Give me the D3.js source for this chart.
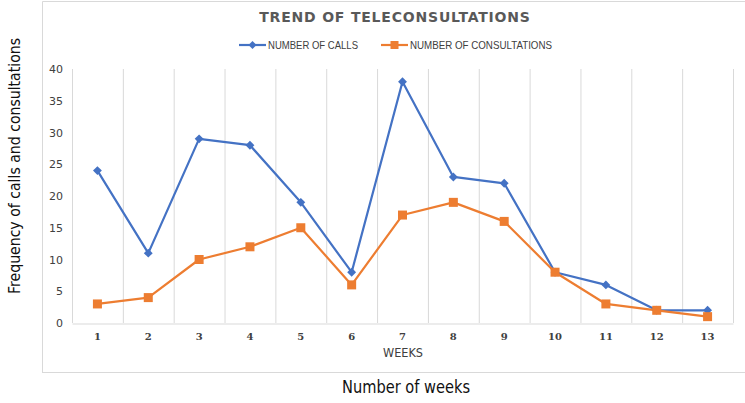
<!DOCTYPE html>
<html><head><meta charset="utf-8">
<script src="https://cdn.jsdelivr.net/npm/d3@7"></script>
<style>body{margin:0;background:#fff}</style>
</head><body>
<svg id="c" width="745" height="403"></svg>
<script>
const weeks = ["1","2","3","4","5","6","7","8","9","10","11","12","13"];
const calls = [24, 11, 29, 28, 19, 8, 38, 23, 22, 8, 6, 2, 2];
const consultations = [3, 4, 10, 12, 15, 6, 17, 19, 16, 8, 3, 2, 1];
const yTicks = [0, 5, 10, 15, 20, 25, 30, 35, 40];
const seriesNames = ["NUMBER OF CALLS", "NUMBER OF CONSULTATIONS"];
const colors = ["#4472C4", "#ED7D31"];

const svg = d3.select("#c");
const pLeft = 72, pRight = 733, pTop = 69, pBottom = 323;
const x = d3.scaleBand().domain(weeks).range([pLeft, pRight]);
const y = d3.scaleLinear().domain([0, 40]).range([pBottom, pTop]);

// chart border
svg.append("path").attr("d", "M42.5,372.5 L42.5,1.5 L745,1.5").attr("fill","none").attr("stroke","#d9d9d9").attr("stroke-width",1);
svg.append("line").attr("x1",42).attr("x2",745).attr("y1",372.5).attr("y2",372.5).attr("stroke","#d9d9d9");

// vertical gridlines at band boundaries
const bounds = weeks.map(w => x(w)).concat([pRight]);
svg.append("g").selectAll("line").data(bounds).join("line")
  .attr("x1", d => d + 0.5).attr("x2", d => d + 0.5)
  .attr("y1", pTop).attr("y2", pBottom)
  .attr("stroke", "#d9d9d9").attr("stroke-width", 1);

// x axis
const xAxis = svg.append("g").attr("transform", `translate(0,${pBottom + 0.5})`)
  .call(d3.axisBottom(x).tickSize(0).tickPadding(9));
xAxis.select(".domain").attr("stroke", "#d9d9d9");
xAxis.selectAll("text").attr("font-family", "DejaVu Serif, serif").attr("font-size", 10)
  .attr("font-weight", "bold").attr("fill", "#404040");

// y axis
const yAxis = svg.append("g").attr("transform", `translate(${pLeft},0)`)
  .call(d3.axisLeft(y).tickValues(yTicks).tickSize(0).tickPadding(9));
yAxis.select(".domain").remove();
yAxis.selectAll("text").attr("font-family", "DejaVu Sans, sans-serif").attr("font-size", 11)
  .attr("fill", "#404040");

// lines
const seriesData = [calls, consultations];
const line = d3.line().x((d, i) => x(weeks[i]) + x.bandwidth() / 2).y(d => y(d));
seriesData.forEach((s, k) => {
  svg.append("path").datum(s).attr("d", line).attr("fill", "none")
    .attr("stroke", colors[k]).attr("stroke-width", 2.2).attr("stroke-linejoin", "round");
});
// markers
svg.append("g").selectAll("path").data(calls).join("path")
  .attr("d", d3.symbol(d3.symbolDiamond2, 50))
  .attr("transform", (d, i) => `translate(${x(weeks[i]) + x.bandwidth() / 2},${y(d)})`)
  .attr("fill", colors[0]);
svg.append("g").selectAll("rect").data(consultations).join("rect")
  .attr("x", (d, i) => x(weeks[i]) + x.bandwidth() / 2 - 4.5)
  .attr("y", d => y(d) - 4.5).attr("width", 9).attr("height", 9)
  .attr("fill", colors[1]);

// title
svg.append("text").attr("x", 395).attr("y", 22).attr("text-anchor", "middle")
  .attr("font-family", "DejaVu Sans, sans-serif").attr("font-size", 14).attr("font-weight", "bold")
  .attr("letter-spacing", 0.8).attr("fill", "#595959").text("TREND OF TELECONSULTATIONS");

// legend
const leg = [{x0: 239, tx: 268, w: 90}, {x0: 381, tx: 410, w: 142}];
leg.forEach((l, k) => {
  const g = svg.append("g");
  g.append("line").attr("x1", l.x0).attr("x2", l.x0 + 27).attr("y1", 45).attr("y2", 45)
    .attr("stroke", colors[k]).attr("stroke-width", 2.2);
  if (k === 0) {
    g.append("path").attr("d", d3.symbol(d3.symbolDiamond2, 40))
      .attr("transform", `translate(${l.x0 + 13.5},45)`).attr("fill", colors[k]);
  } else {
    g.append("rect").attr("x", l.x0 + 9.5).attr("y", 41).attr("width", 8).attr("height", 8).attr("fill", colors[k]);
  }
  g.append("text").attr("x", l.tx).attr("y", 49)
    .attr("font-family", "Liberation Sans, sans-serif").attr("font-size", 11.5)
    .attr("textLength", l.w).attr("lengthAdjust", "spacingAndGlyphs")
    .attr("fill", "#404040").text(seriesNames[k]);
});

// axis titles
svg.append("text").attr("x", 403).attr("y", 357).attr("text-anchor", "middle")
  .attr("font-family", "DejaVu Sans, sans-serif").attr("font-size", 11.5).attr("fill", "#404040")
  .attr("textLength", 40).attr("lengthAdjust", "spacingAndGlyphs").text("WEEKS");
svg.append("text").attr("x", 406).attr("y", 393).attr("text-anchor", "middle")
  .attr("font-family", "DejaVu Sans, sans-serif").attr("font-size", 17).attr("fill", "#111")
  .attr("textLength", 128).attr("lengthAdjust", "spacingAndGlyphs")
  .text("Number of weeks");
svg.append("text").attr("transform", "translate(20,166) rotate(-90)").attr("text-anchor", "middle")
  .attr("font-family", "DejaVu Sans, sans-serif").attr("font-size", 15.5).attr("fill", "#111")
  .attr("textLength", 256).attr("lengthAdjust", "spacingAndGlyphs")
  .text("Frequency of calls and consultations");
</script>
</body></html>
